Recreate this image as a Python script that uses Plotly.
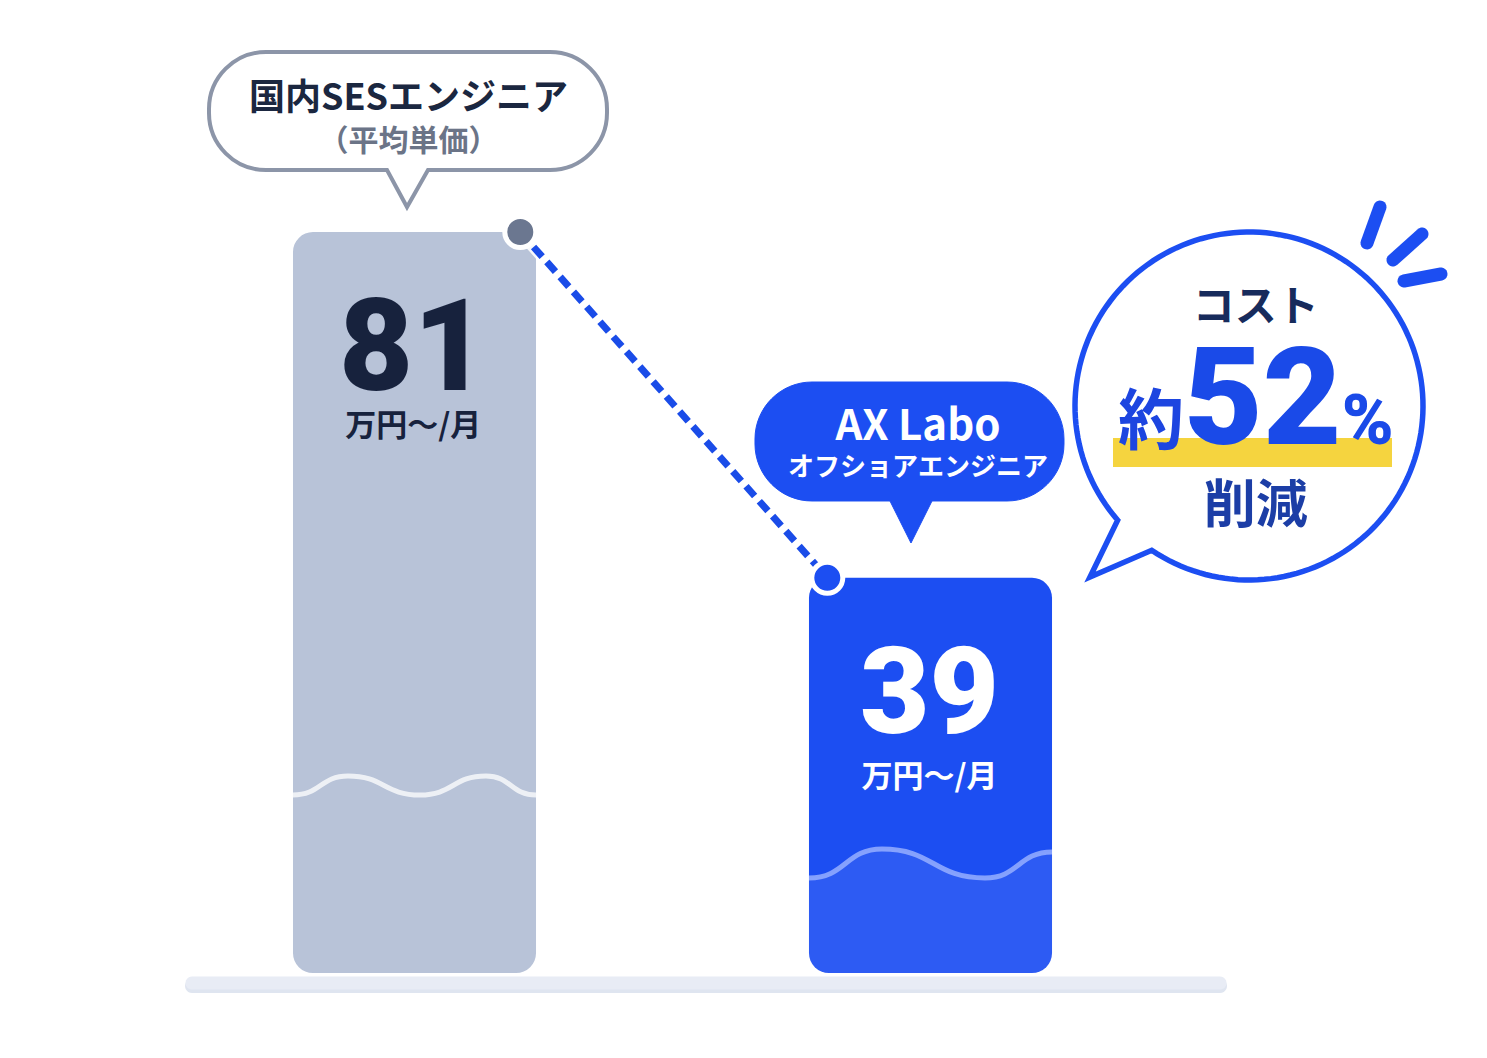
import math
import numpy as np
import plotly.graph_objects as go

# data
categories = ["国内SESエンジニア", "AX Labo オフショアエンジニア"]
monthly_cost = [81, 39]          # 万円〜/月
unit_label = "万円〜/月"
bubble_titles = ["国内SESエンジニア", "AX Labo"]
bubble_subtitles = ["（平均単価）", "オフショアエンジニア"]
callout_top = "コスト"
callout_prefix = "約"
callout_bottom = "削減"

reduction = round((monthly_cost[0] - monthly_cost[1]) / monthly_cost[0] * 100)

W, H = 1487, 1058
OFF = 8            # page margin of the html body
JP = "Noto Sans CJK JP"
NUM = "Roboto"
BLUE = "#1c4ef2"
NAVY = "#17223d"
AXIS_BREAK = -9    # bars start below zero (wavy break marks)
BAR_W = 0.471


def P(x, y):
    # reference pixel -> paper coordinates
    return f"{(x - OFF) / W:.5f},{1 - (y - OFF) / H:.5f}"


def bubble_path(x0, y0, x1, y1, r, tx0, tx1, tip):
    k = 0.5523 * r
    return " ".join([
        f"M{P(x0 + r, y0)}",
        f"L{P(x1 - r, y0)}",
        f"C{P(x1 - r + k, y0)} {P(x1, y0 + r - k)} {P(x1, y0 + r)}",
        f"L{P(x1, y1 - r)}",
        f"C{P(x1, y1 - r + k)} {P(x1 - r + k, y1)} {P(x1 - r, y1)}",
        f"L{P(tx1, y1)}",
        f"L{P(*tip)}",
        f"L{P(tx0, y1)}",
        f"L{P(x0 + r, y1)}",
        f"C{P(x0 + r - k, y1)} {P(x0, y1 - r + k)} {P(x0, y1 - r)}",
        f"L{P(x0, y0 + r)}",
        f"C{P(x0, y0 + r - k)} {P(x0 + r - k, y0)} {P(x0 + r, y0)}",
        "Z",
    ])


def capsule(a, b, hw, n=12):
    ang = math.atan2(b[1] - a[1], b[0] - a[0])
    pts = []
    for t in np.linspace(-math.pi / 2, math.pi / 2, n):
        pts.append((b[0] + hw * math.cos(ang + t), b[1] + hw * math.sin(ang + t)))
    for t in np.linspace(math.pi / 2, 3 * math.pi / 2, n):
        pts.append((a[0] + hw * math.cos(ang + t), a[1] + hw * math.sin(ang + t)))
    return "M" + " L".join(P(*p) for p in pts) + " Z"


def callout_path(cx, cy, r, a_start, a_end, tip, n=160):
    angs = np.radians(np.linspace(a_start, a_end + 360, n))
    pts = [(cx + r * math.cos(a), cy + r * math.sin(a)) for a in angs]
    return "M" + " L".join(P(*p) for p in pts) + f" L{P(*tip)} Z"


def wave(points):
    d = f"M{P(*points[0])}"
    for a, b in zip(points[:-1], points[1:]):
        h = (b[0] - a[0]) / 2
        d += f" C{P(a[0] + h, a[1])} {P(b[0] - h, b[1])} {P(*b)}"
    return d


xs = list(range(len(categories)))

fig = go.Figure()

fig.add_trace(go.Bar(
    x=xs,
    y=[v - AXIS_BREAK for v in monthly_cost],
    base=AXIS_BREAK,
    width=BAR_W,
    marker=dict(color=["#b8c3d8", BLUE], line=dict(width=0)),
    hoverinfo="skip",
))

# dotted connector between the two bar tops
conn_x = [xs[0] + 0.205, xs[1] - 0.2]
fig.add_trace(go.Scatter(
    x=conn_x, y=monthly_cost, mode="lines",
    line=dict(color="rgba(255,255,255,0.9)", width=12),
    hoverinfo="skip",
))
fig.add_trace(go.Scatter(
    x=conn_x, y=monthly_cost, mode="lines+markers",
    line=dict(color="#1a4ce8", width=7, dash="13px,7px"),
    marker=dict(size=31, color=["#6b7790", BLUE], line=dict(color="white", width=5)),
    hoverinfo="skip",
))

shapes = []
# baseline
shapes.append(dict(type="path", path=capsule((192, 986), (1220, 986), 7),
                   fillcolor="#dfe5f0", line=dict(width=0), layer="below"))
shapes.append(dict(type="path", path=capsule((192, 983), (1220, 983), 6.5),
                   fillcolor="#e8ecf5", line=dict(width=0), layer="above"))

# wavy break marks
shapes.append(dict(type="path",
                   path=wave([(809, 878), (882, 849), (985, 878), (1052, 852)])
                   + f" L{P(1052, 973)} L{P(809, 973)} Z",
                   fillcolor="rgba(255,255,255,0.08)", line=dict(width=0), layer="above"))
shapes.append(dict(type="path", path=wave([(293, 795), (348, 776), (420, 795), (486, 776), (536, 795)]),
                   line=dict(color="rgba(255,255,255,0.75)", width=5), layer="above"))
shapes.append(dict(type="path", path=wave([(809, 878), (882, 849), (985, 878), (1052, 852)]),
                   line=dict(color="rgba(150,175,255,0.85)", width=5), layer="above"))

# speech bubbles
shapes.append(dict(type="path", path=bubble_path(209, 52, 607, 170, 57, 387, 428, (407, 207)),
                   fillcolor="white", line=dict(color="#8c95a8", width=4), layer="above"))
shapes.append(dict(type="path", path=bubble_path(755, 382, 1064, 501, 57, 890, 932, (911, 543)),
                   fillcolor=BLUE, line=dict(color=BLUE, width=1), layer="above"))

# round callout
shapes.append(dict(type="path", path=callout_path(1249, 406, 174, 139, 124, (1090, 577)),
                   fillcolor="white", line=dict(color=BLUE, width=5.5), layer="above"))
for a, b in [((1367, 243), (1380, 207)), ((1393, 260), (1422, 234)), ((1404, 281), (1441, 274))]:
    shapes.append(dict(type="path", path=capsule(a, b, 6.5),
                       fillcolor=BLUE, line=dict(width=0), layer="above"))
shapes.append(dict(type="path",
                   path=f"M{P(1113, 438)} L{P(1392, 438)} L{P(1392, 467)} L{P(1113, 467)} Z",
                   fillcolor="#f5d43f", line=dict(width=0), layer="above"))

for s in shapes:
    s.setdefault("xref", "paper")
    s.setdefault("yref", "paper")


def span(text, size, color=None, family=None, weight=None):
    st = f"font-size:{size}px"
    if color:
        st += f";fill:{color}"
    if family:
        st += f";font-family:{family}"
    if weight:
        st += f";font-weight:{weight}"
    return f"<span style='{st}'>{text}</span>"


def txt(x, y, text, size, color, weight="bold"):
    return dict(x=(x - OFF) / W, y=1 - (y - OFF) / H, xref="paper", yref="paper", text=text,
                showarrow=False, xanchor="center", yanchor="middle",
                font=dict(family=JP, size=size, color=color, weight=weight))


annotations = [
    txt(408, 114, span(bubble_titles[0], 36) + "<br>" + span(bubble_subtitles[0], 30, "#6b7487"),
        31.5, "#1b2740"),
    txt(918, 437, span(bubble_titles[1], 42) + "<br>" + span(bubble_subtitles[1], 26),
        27.7, "white"),
    txt(413, 358, span(monthly_cost[0], 128, family=NUM, weight=900) + "<br>" + span(unit_label, 31),
        35.4, NAVY),
    txt(929, 709, span(monthly_cost[1], 120, family=NUM, weight=900) + "<br>" + span(unit_label, 31),
        41.5, "white"),
    txt(1256, 405,
        span(callout_top, 42, "#172b5c") + "<br>" * 14
        + span(callout_prefix, 66, "#1d45e0")
        + span(reduction, 136, "#1a4ae8", NUM, 900)
        + span("%", 70, "#1a4ae8", NUM, 900) + "<br>" * 9
        + span(callout_bottom, 52, "#1c3ea6"),
        6.76, "#1a4ae8"),
]

fig.update_layout(
    width=W, height=H,
    margin=dict(l=0, r=0, t=0, b=0),
    paper_bgcolor="white", plot_bgcolor="white",
    showlegend=False,
    barcornerradius=20,
    xaxis=dict(range=[-0.7878, 2.0940], visible=False, fixedrange=True),
    yaxis=dict(range=[-20.295, 108.21], visible=False, fixedrange=True),
    shapes=shapes,
    annotations=annotations,
)

fig.write_html("out.html")
